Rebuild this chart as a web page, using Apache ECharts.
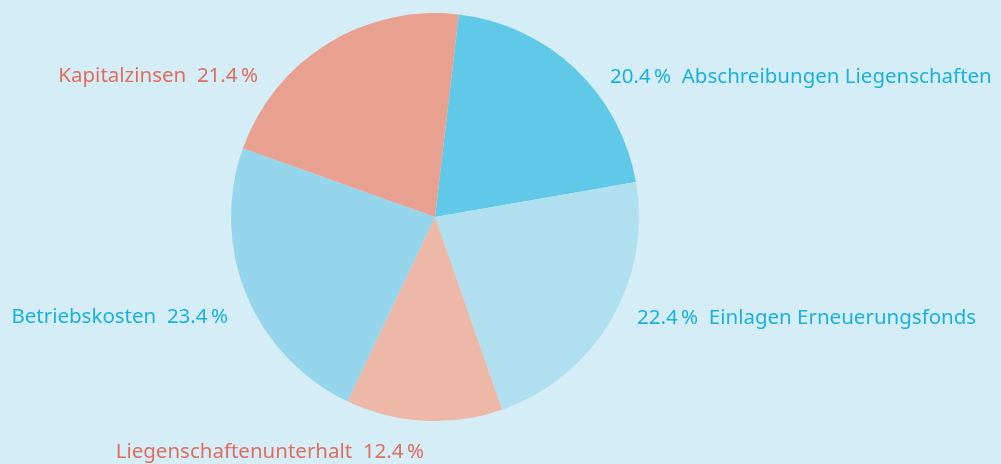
<!DOCTYPE html>
<html>
<head>
<meta charset="utf-8">
<script src="https://cdn.jsdelivr.net/npm/echarts@6/dist/echarts.min.js"></script>
<style>
    html, body { margin: 0; padding: 0; background: #d5edf6; }
    #chart { width: 1001px; height: 464px; }
</style>
</head>
<body>
<div id="chart"></div>
<script>
let $ = a=>document.querySelector(a)

// Daten (Uhrzeigersinn ab oben)
const names = ['Abschreibungen Liegenschaften', 'Einlagen Erneuerungsfonds', 'Liegenschaftenunterhalt', 'Betriebskosten', 'Kapitalzinsen']
const values = [20.4, 22.4, 12.4, 23.4, 21.4]
const sliceColors = ['#60c9e8', '#b0e0ef', '#edb8a8', '#95d6ed', '#e8a190']
const textColors = ['#1ab1dd', '#1ab1dd', '#e06e60', '#1ab1dd', '#e06e60']
const percentFirst = [true, true, false, false, false]

// Label-Positionen (x, y, Ausrichtung)
const labelPos = [
    [610, 77, 'left'],
    [637, 318, 'left'],
    [424, 452, 'right'],
    [228, 317, 'right'],
    [258, 76, 'right']
]

const fmt = v => v.toFixed(1) + '\u2009%'

echarts.init($('#chart')).setOption({
    backgroundColor: '#d5edf6',
    animation: false,
    series: [{
        type: 'pie',
        center: [435, 217],
        radius: [0, 204],
        startAngle: 83.3,
        clockwise: true,
        itemStyle: { borderWidth: 0 },
        labelLine: { show: false },
        label: {
            show: true,
            position: 'outside',
            alignTo: 'none',
            overflow: 'none',
            fontFamily: 'Noto Sans',
            fontSize: 20.5,
            formatter: p => percentFirst[p.dataIndex]
                ? fmt(p.value) + '  ' + p.name
                : p.name + '  ' + fmt(p.value)
        },
        labelLayout: p => ({
            x: labelPos[p.dataIndex][0],
            y: labelPos[p.dataIndex][1],
            align: labelPos[p.dataIndex][2],
            verticalAlign: 'middle',
            hideOverlap: false
        }),
        data: names.map((n, i) => ({
            name: n,
            value: values[i],
            itemStyle: { color: sliceColors[i] },
            label: { color: textColors[i] }
        }))
    }]
})
</script>
</body>
</html>
